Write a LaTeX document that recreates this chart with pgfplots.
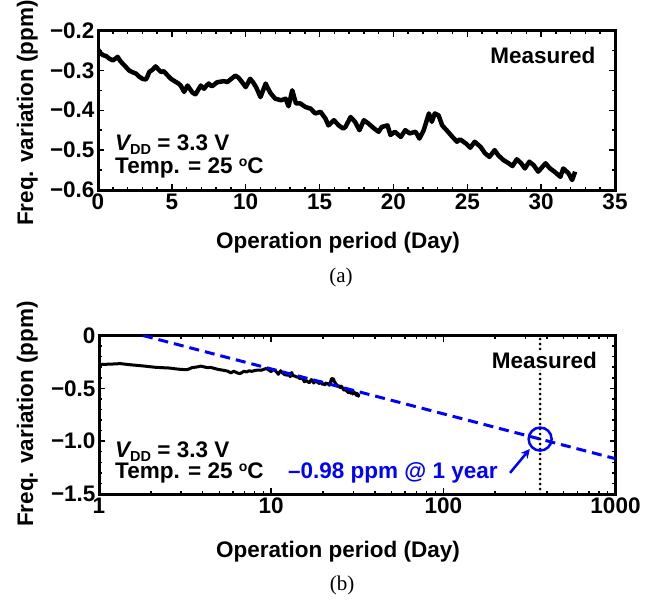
\documentclass[border=0pt]{standalone}
\usepackage{pgfplots}
\pgfplotsset{compat=1.18}
\usepackage{pgfplotstable}
\usepackage{fontspec}
\setmainfont{Liberation Sans}
\newfontfamily\capfont{Liberation Serif}
\usetikzlibrary{arrows.meta}

\newcommand\lf{\fontsize{22.5bp}{26bp}\selectfont\bfseries}
\newcommand\vdd{{\itshape V}\raisebox{-4bp}{\fontsize{14.5bp}{15bp}\selectfont DD}}
\newcommand\degc{\raisebox{7bp}{\fontsize{14bp}{15bp}\selectfont o}C}

% Measured frequency drift (day, ppm)
\pgfplotstableread{
day    ppm
0.02  -0.248
0.15  -0.256
0.35  -0.262
0.55  -0.264
0.75  -0.270
1.00  -0.275
1.20  -0.270
1.33  -0.266
1.50  -0.276
1.67  -0.283
1.85  -0.290
2.10  -0.300
2.30  -0.304
2.57  -0.308
2.80  -0.316
3.00  -0.321
3.24  -0.323
3.35  -0.315
3.47  -0.304
3.70  -0.298
3.90  -0.290
4.10  -0.298
4.26  -0.304
4.45  -0.302
4.60  -0.308
4.80  -0.316
4.93  -0.321
5.10  -0.325
5.27  -0.329
5.45  -0.333
5.60  -0.338
5.83  -0.354
6.06  -0.338
6.25  -0.348
6.40  -0.356
6.60  -0.360
6.80  -0.348
6.96  -0.338
7.18  -0.346
7.35  -0.338
7.50  -0.333
7.70  -0.340
7.86  -0.336
8.05  -0.330
8.20  -0.329
8.50  -0.327
8.76  -0.329
9.00  -0.322
9.30  -0.313
9.50  -0.318
9.66  -0.325
10.00 -0.342
10.30 -0.321
10.50 -0.330
10.70 -0.342
11.00 -0.367
11.35 -0.333
11.50 -0.345
11.70 -0.358
12.00 -0.371
12.40 -0.375
12.70 -0.371
12.90 -0.390
13.15 -0.350
13.40 -0.383
13.70 -0.383
14.05 -0.392
14.40 -0.396
14.70 -0.408
15.07 -0.404
15.40 -0.421
15.60 -0.438
15.97 -0.425
16.30 -0.438
16.60 -0.446
16.75 -0.442
17.10 -0.417
17.40 -0.429
17.70 -0.450
18.00 -0.425
18.30 -0.433
18.70 -0.446
19.00 -0.454
19.20 -0.442
19.60 -0.438
19.80 -0.462
20.10 -0.454
20.50 -0.467
20.80 -0.450
21.10 -0.458
21.50 -0.454
21.76 -0.471
22.05 -0.450
22.40 -0.408
22.60 -0.429
22.80 -0.408
23.06 -0.413
23.30 -0.438
23.60 -0.450
24.00 -0.467
24.30 -0.479
24.50 -0.473
24.90 -0.483
25.20 -0.494
25.50 -0.479
25.90 -0.492
26.20 -0.508
26.50 -0.517
26.85 -0.500
27.10 -0.513
27.45 -0.525
27.80 -0.533
28.06 -0.540
28.35 -0.523
28.65 -0.533
28.90 -0.546
29.20 -0.529
29.50 -0.538
29.80 -0.554
30.30 -0.533
30.60 -0.546
30.90 -0.554
31.30 -0.567
31.50 -0.546
31.85 -0.558
32.10 -0.575
32.30 -0.554
}\drift

\pgfplotsset{
  panel/.style={
    scale only axis,
    axis line style={line width=3bp},
    tick align=inside,
    tick style={line width=1.5bp, black},
    major tick length=6bp,
    minor tick length=3.5bp,
    tick label style={font=\lf},
    clip=true,
  },
}

\begin{document}
\begin{tikzpicture}
\useasboundingbox (0,0) rectangle (667bp,-603bp);

% (a) linear time axis
\begin{axis}[panel,
  at={(98bp,-190bp)}, anchor=south west,
  width=517bp, height=159.5bp,
  xmin=0, xmax=35, ymin=-0.6, ymax=-0.2,
  xtick={0,5,10,15,20,25,30,35},
  xticklabels={0,5,10,15,20,25,30,35},
  minor x tick num=4,
  ytick={-0.6,-0.5,-0.4,-0.3,-0.2},
  yticklabels={−0.6,−0.5,−0.4,−0.3,−0.2},
  minor y tick num=1,
]
\addplot[black, line width=4.5bp, line join=round] table[x=day, y=ppm] {\drift};
\end{axis}

% (b) logarithmic time axis with extrapolation
\begin{axis}[panel,
  at={(99bp,-494bp)}, anchor=south west,
  width=516.5bp, height=158.5bp,
  xmode=log,
  xmin=1, xmax=1000, ymin=-1.5, ymax=0,
  xtick={1,10,100,1000},
  xticklabels={1,10,100,1000},
  ytick={-1.5,-1,-0.5,0},
  yticklabels={−1.5,−1.0,−0.5,0},
  minor y tick num=4,
]
\addplot[black, line width=3bp, line join=round] table[x=day, y=ppm] {\drift};
\addplot[blue, line width=3bp, dash pattern=on 10bp off 6bp] coordinates {(1.8,0) (1000,-1.166)};
\addplot[black, line width=3bp, line cap=round, dash pattern=on 0bp off 5bp] coordinates {(365,-1.5) (365,0)};
\addplot[blue, line width=2.5bp, only marks, mark=o, mark size=11.5bp] coordinates {(365,-0.98)};
\draw[blue, line width=2.5bp, -{Stealth[length=9bp,width=9bp]}] (axis cs:244,-1.30) -- (axis cs:318,-1.074);
\end{axis}

% panel texts
\node[font=\lf, anchor=base east] at (599bp,-63bp) {Measured};
\node[font=\lf, anchor=base west, inner sep=0pt] at (115bp,-150bp) {\vdd\ = 3.3 V};
\node[font=\lf, anchor=base west, inner sep=0pt] at (115bp,-173bp) {Temp. = 25 \degc};

\node[font=\lf, anchor=base east, fill=white, inner sep=2bp] at (599bp,-368bp) {Measured};
\node[font=\lf, anchor=base west, inner sep=0pt] at (115bp,-457bp) {\vdd\ = 3.3 V};
\node[font=\lf, anchor=base west, inner sep=0pt] at (115bp,-478bp) {Temp. = 25 \degc};
\node[font=\lf, anchor=base west, inner sep=0pt, text=blue] at (288bp,-478bp) {–0.98 ppm @ 1 year};

% axis titles
\node[font=\lf, anchor=base] at (338bp,-248bp) {Operation period (Day)};
\node[font=\lf, anchor=base] at (338bp,-557bp) {Operation period (Day)};
\node[font=\lf, anchor=base, rotate=90] at (33bp,-113bp) {Freq. variation (ppm)};
\node[font=\lf, anchor=base, rotate=90] at (33bp,-414bp) {Freq. variation (ppm)};

% captions
\node[font=\capfont\fontsize{21bp}{24bp}\selectfont] at (341bp,-277bp) {(a)};
\node[font=\capfont\fontsize{21bp}{24bp}\selectfont] at (342bp,-585bp) {(b)};
\end{tikzpicture}
\end{document}
